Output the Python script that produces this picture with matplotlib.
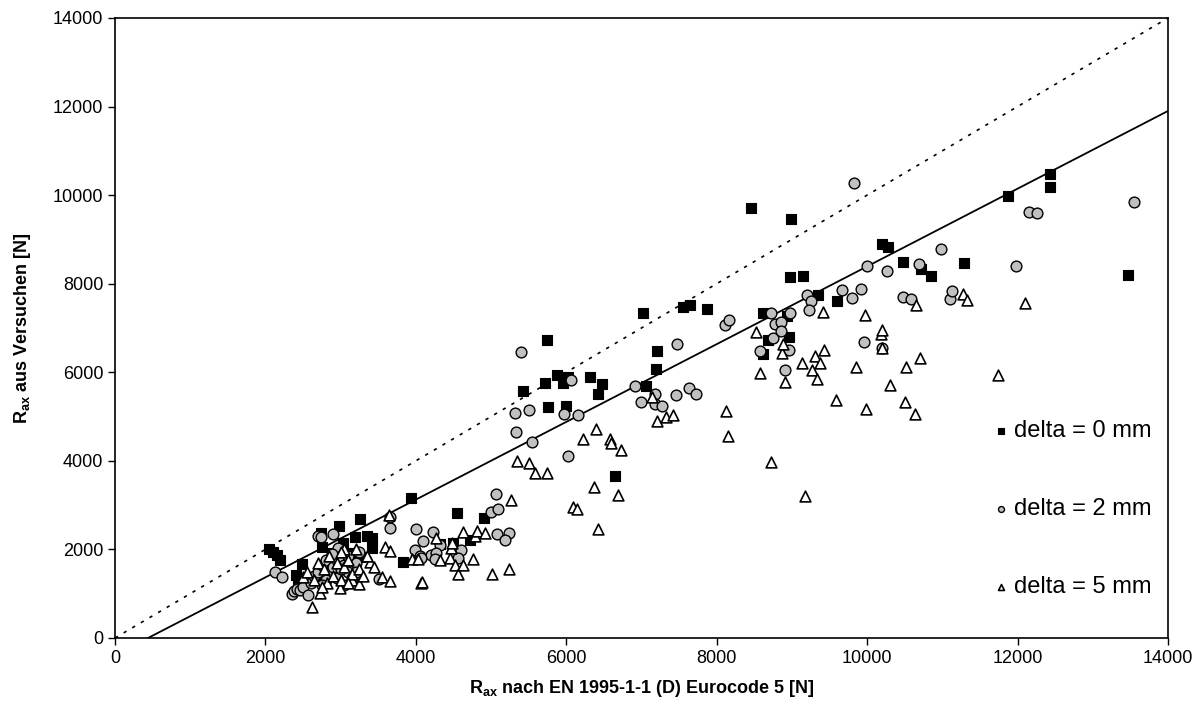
import matplotlib
matplotlib.use("Agg")
import matplotlib.pyplot as plt

plt.rcParams['font.family'] = ['Liberation Sans', 'DejaVu Sans']
plt.rcParams['mathtext.fontset'] = 'custom'
plt.rcParams['mathtext.rm'] = 'Liberation Sans'
plt.rcParams['mathtext.bf'] = 'Liberation Sans:bold'

# delta = 0 mm  (x: EC5, y: Versuch)
x0 = [2050, 2100, 2150, 2200, 2400, 2430, 2480, 2630, 2700, 2740, 2750, 2890, 2950, 2980,
      3030, 3120, 3190, 3260, 3260, 3350, 3420, 3420, 2860, 3830, 3930, 4320, 4500, 4550,
      4720, 4900, 5420, 5720, 5740, 5760, 5880, 5960, 6000, 6020, 6320, 6420, 6470, 6650,
      7020, 7060, 7190, 7200, 7550, 7650, 7870, 8460, 8620, 8620, 8680, 8930, 8960, 8970,
      8990, 9150, 9350, 9600, 10200, 10280, 10480, 10720, 10850, 11290, 11870, 12430,
      12430, 13470]
y0 = [2000, 1940, 1870, 1750, 1420, 1280, 1670, 1380, 1350, 2370, 2050, 1920, 1830, 2530,
      2140, 1920, 2280, 2680, 1830, 2300, 2260, 2040, 1600, 1720, 3160, 2120, 2140, 2820,
      2210, 2710, 5580, 5760, 6730, 5220, 5940, 5760, 5240, 5890, 5890, 5510, 5730, 3660,
      7340, 5690, 6070, 6480, 7470, 7520, 7430, 9720, 6410, 7340, 6730, 7270, 6800, 8150,
      9460, 8170, 7740, 7610, 8900, 8830, 8490, 8330, 8170, 8470, 9980, 10480,
      10180, 8200]

# delta = 2 mm
x2 = [2130, 2220, 2350, 2380, 2420, 2460, 2500, 2570, 2700, 2740, 2900, 2960, 3660, 3660,
      4000, 4100, 3990, 4060, 3510,
      2600, 2650, 2700, 2750, 2800, 2850, 2900, 2950, 3000, 3050, 3100, 3150, 3200, 3250,
      2800, 2950, 3050, 2880, 3100, 3000, 2750, 3200,
      4230, 4320, 4600, 4560, 4200, 4270, 4250, 4070, 5070, 5000, 5090, 5080, 5240, 5190,
      5400, 6060, 5320, 5500, 5970, 6160, 5330, 5540, 6020, 6910, 7180, 7000, 7180, 7270,
      7460, 7630, 7730, 7470,
      8110, 8160, 8580, 8720, 8750, 8780, 8860, 8860, 8910, 8960, 8970, 9200, 9250, 9230,
      9670, 9800, 9920, 9960, 10000, 10200, 10260, 10480, 10580, 10690, 10980, 11100,
      11130, 11980, 12150, 12260, 13550, 9820]
y2 = [1490, 1380, 1000, 1050, 1100, 1080, 1150, 970, 2300, 2280, 2350, 2030, 2730, 2480,
      2460, 2190, 1990, 1850, 1330,
      1250, 1400, 1500, 1650, 1750, 1450, 1600, 1750, 1850, 1650, 1500, 1350, 1700, 1950,
      1300, 1350, 1200, 1900, 1850, 1550, 1200, 1500,
      2390, 2100, 1990, 1810, 1870, 1920, 1780, 1810, 3250, 2840, 2910, 2350, 2370, 2210,
      6460, 5830, 5080, 5150, 5060, 5030, 4650, 4420, 4110, 5690, 5500, 5330, 5280, 5240,
      5490, 5640, 5510, 6640,
      7070, 7180, 6480, 7340, 6770, 7090, 7130, 6930, 6050, 6500, 7340, 7740, 7610, 7410,
      7860, 7680, 7880, 6680, 8400, 6550, 8290, 7700, 7650, 8440, 8780, 7650,
      7830, 8400, 9620, 9600, 9840, 10270]

# delta = 5 mm
x5 = [2620, 2730, 2990, 3150, 3240, 2500, 3390, 3440, 3550, 3660, 3640, 3590, 3660, 4070,
      3950, 4030,
      2550, 2650, 2700, 2780, 2820, 2900, 2950, 3000, 3050, 3100, 3150, 3200, 3250, 3300,
      3350, 2850, 3050, 2750, 3100, 3000,
      4080, 4270, 4320, 4450, 4470, 4480, 4520, 4560, 4630, 4630, 4760, 4790, 4810, 4920,
      5010, 5240, 5270,
      5340, 5500, 5580, 5740, 6090, 6140, 6220, 6370, 6400, 6420, 6580, 6600, 6690, 6730,
      7140, 7210, 7330, 7420,
      8130, 8150, 8520, 8580, 8720, 8870, 8880, 8910, 9130, 9180, 9270, 9310, 9330, 9370,
      9410, 9430, 9590, 9850, 9970, 9990, 10180, 10200, 10200, 10300, 10500, 10520, 10640,
      10650, 10700, 11270, 11330, 11740, 12100]
y5 = [700, 1020, 1130, 1310, 1220, 1380, 1720, 1600, 1380, 1290, 2780, 2050, 1960, 1240,
      1780, 1780,
      1500, 1300, 1700, 1550, 1250, 1400, 1700, 1300, 1600, 1750, 1450, 2000, 1550, 1400,
      1850, 1850, 2000, 1150, 1250, 1950,
      1260, 2260, 1760, 1810, 2030, 2140, 1650, 1440, 1650, 2390, 1780, 2300, 2420, 2370,
      1440, 1560, 3120,
      4000, 3950, 3730, 3730, 2960, 2910, 4490, 3410, 4720, 2460, 4490, 4400, 3230, 4240,
      5440, 4900, 4990, 5030,
      5130, 4560, 6910, 5980, 3970, 6430, 6640, 5780, 6210, 3200, 6050, 6370, 5850, 6210,
      7360, 6500, 5370, 6120, 7290, 5170, 6860, 6950, 6550, 5710, 5330, 6120, 5060,
      7520, 6320, 7770, 7630, 5940, 7560]

# regression line
slope = 0.8776
intercept = -386
x_fit = [0, 14000]

fig = plt.figure(figsize=(12.03, 7.19), dpi=100)
ax = fig.add_axes([0.0956, 0.1127, 0.8753, 0.8623])

ax.plot([0, 14000], [0, 14000], color='black', linestyle=(0, (2, 4)), linewidth=1.2, zorder=1)
ax.plot(x_fit, [slope * v + intercept for v in x_fit], color='black', linewidth=1.3, zorder=1)

ax.scatter(x0, y0, marker='s', s=58, c='black', edgecolors='black', linewidths=0.8,
           label='delta = 0 mm', zorder=3)
ax.scatter(x2, y2, marker='o', s=60, c='#c0c0c0', edgecolors='black', linewidths=1.0,
           label='delta = 2 mm', zorder=3)
ax.scatter(x5, y5, marker='^', s=60, c='white', edgecolors='black', linewidths=1.2,
           label='delta = 5 mm', zorder=3)

ax.set_xlim(0, 14000)
ax.set_ylim(0, 14000)
ax.set_xticks(range(0, 14001, 2000))
ax.set_yticks(range(0, 14001, 2000))
ax.tick_params(direction='out', length=5, width=1, labelsize=13, colors='black')
for sp in ax.spines.values():
    sp.set_linewidth(1.2)

ax.set_xlabel(r'R$_{\mathbf{ax}}$ nach EN 1995-1-1 (D) Eurocode 5 [N]', fontsize=13,
              fontweight='bold', labelpad=8)
ax.set_ylabel(r'R$_{\mathbf{ax}}$ aus Versuchen [N]', fontsize=13, fontweight='bold', labelpad=14)

ax.legend(loc='lower right', bbox_to_anchor=(1.0, 0.038), frameon=False, fontsize=17,
          markerscale=0.55, labelspacing=2.36, handletextpad=0.1, handlelength=0.9,
          borderaxespad=0.3)

plt.savefig('out.png', dpi=100)
